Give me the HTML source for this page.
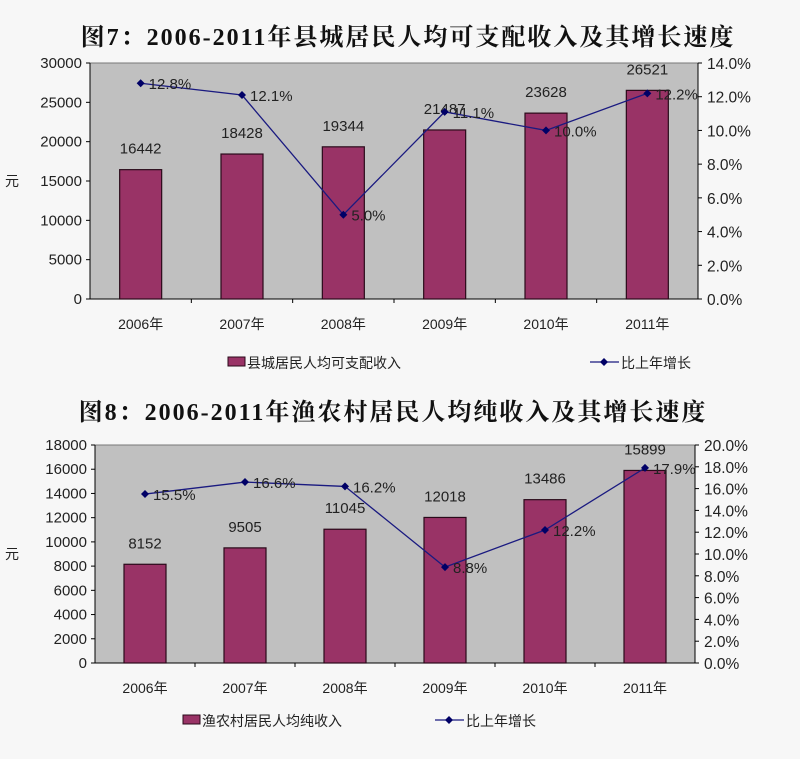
<!DOCTYPE html>
<html><head><meta charset="utf-8">
<style>
html,body{margin:0;padding:0;background:#f7f7f7;}
svg text{font-family:"Liberation Sans","Noto Sans CJK SC",sans-serif;}
.t{font-family:"Liberation Serif","Noto Serif CJK SC",serif;font-weight:bold;letter-spacing:2px;}
</style></head>
<body>
<svg id="s" width="800" height="754" viewBox="0 0 800 754" xmlns="http://www.w3.org/2000/svg">
<rect width="800" height="754" fill="#f7f7f7"/>
<text class="t" x="408" y="45" text-anchor="middle" font-size="24" fill="#111">图7：2006-2011年县城居民人均可支配收入及其增长速度</text>
<text class="t" x="393" y="420" text-anchor="middle" font-size="24" fill="#111">图8：2006-2011年渔农村居民人均纯收入及其增长速度</text>
</svg>
<script>
const categories=["2006年","2007年","2008年","2009年","2010年","2011年"];
const income1=[16442,18428,19344,21487,23628,26521];
const growth1=[12.8,12.1,5.0,11.1,10.0,12.2];
const income2=[8152,9505,11045,12018,13486,15899];
const growth2=[15.5,16.6,16.2,8.8,12.2,17.9];
const leftTicks1=[0,5000,10000,15000,20000,25000,30000];
const rightTicks1=[0,2,4,6,8,10,12,14];
const leftTicks2=[0,2000,4000,6000,8000,10000,12000,14000,16000,18000];
const rightTicks2=[0,2,4,6,8,10,12,14,16,18,20];

const svg=document.getElementById('s');
const NS='http://www.w3.org/2000/svg';
function mk(tag,attrs,parent){const e=document.createElementNS(NS,tag);for(const k in attrs)e.setAttribute(k,attrs[k]);(parent||svg).appendChild(e);return e;}

function chart(id,cfg){
  const {x0,x1,y0,y1,lmax,rmax,lt,rt,inc,gr,legY,legBar,legLine,name}=cfg;
  const g=mk('g',{});
  
  
  const bw=(x1-x0)/categories.length;
  const xc=i=>x0+bw*(i+0.5);
  const yL=v=>y1-(v/lmax)*(y1-y0);
  const yR=v=>y1-(v/rmax)*(y1-y0);
  const pa=mk('rect',{x:x0,y:y0,width:x1-x0,height:y1-y0,fill:'#c0c0c0',stroke:'#777','stroke-width':1},g);
  
  
  mk('line',{x1:x0,y1:y0,x2:x0,y2:y1,stroke:'#000'},g);
  mk('line',{x1:x1,y1:y0,x2:x1,y2:y1,stroke:'#000'},g);
  mk('line',{x1:x0,y1:y1,x2:x1,y2:y1,stroke:'#000'},g);
  lt.forEach(v=>{
    mk('line',{x1:x0-4,y1:yL(v),x2:x0,y2:yL(v),stroke:'#000'},g);
    const t=mk('text',{x:x0-8,y:yL(v)+5,'text-anchor':'end','font-size':15,fill:'#222'},g);
    t.textContent=v;
    
    
  });
  rt.forEach(v=>{
    mk('line',{x1:x1,y1:yR(v),x2:x1+4,y2:yR(v),stroke:'#000'},g);
    const t=mk('text',{x:x1+9,y:yR(v)+6,'font-size':15.5,fill:'#222'},g);
    t.textContent=v.toFixed(1)+'%';
    
    
  });
  const yt=mk('text',{x:12,y:(y0+y1)/2+5,'font-size':14,fill:'#222','text-anchor':'middle'},g);
  yt.textContent='元';
  
  
  categories.forEach((c,i)=>{
    if(i>0) mk('line',{x1:x0+bw*i,y1:y1,x2:x0+bw*i,y2:y1+4,stroke:'#000'},g);
    const t=mk('text',{x:xc(i),y:y1+30,'text-anchor':'middle','font-size':14,fill:'#222'},g);
    t.textContent=c;
    
    
    const b=mk('rect',{x:xc(i)-21,y:yL(inc[i]),width:42,height:y1-yL(inc[i]),fill:'#993366',stroke:'#2a0a1a','stroke-width':1.2},g);
    
    
    const bl=mk('text',{x:xc(i),y:yL(inc[i])-16,'text-anchor':'middle','font-size':15,fill:'#222'},g);
    bl.textContent=inc[i];
    
    
  });
  const pts=gr.map((v,i)=>xc(i)+','+yR(v)).join(' ');
  const pl=mk('polyline',{points:pts,fill:'none',stroke:'#1a1a80','stroke-width':1.3},g);
  
  
  gr.forEach((v,i)=>{
    const x=xc(i),y=yR(v);
    const m=mk('polygon',{points:`${x},${y-4} ${x+4},${y} ${x},${y+4} ${x-4},${y}`,fill:'#000066'},g);
    
    
    const t=mk('text',{x:x+8,y:y+6,'font-size':15,fill:'#222'},g);
    t.textContent=v.toFixed(1)+'%';
    
    
  });
  const l1=mk('rect',{x:legBar,y:legY-5,width:17,height:9,fill:'#993366',stroke:'#2a0a1a'},g);
  
  
  const lt1=mk('text',{x:legBar+19,y:legY+6,'font-size':14,fill:'#222'},g);
  lt1.textContent=name;
  
  
  mk('line',{x1:legLine,y1:legY,x2:legLine+29,y2:legY,stroke:'#1a1a80','stroke-width':1.3},g);
  mk('polygon',{points:`${legLine+14},${legY-4} ${legLine+18},${legY} ${legLine+14},${legY+4} ${legLine+10},${legY}`,fill:'#000066'},g);
  const lt2=mk('text',{x:legLine+31,y:legY+6,'font-size':14,fill:'#222'},g);
  lt2.textContent='比上年增长';
  
  
}
chart('chart-county-income',{x0:90,x1:698,y0:63,y1:299,lmax:30000,rmax:14,lt:leftTicks1,rt:rightTicks1,inc:income1,gr:growth1,legY:362,legBar:228,legLine:590,name:'县城居民人均可支配收入'});
chart('chart-rural-income',{x0:95,x1:695,y0:445,y1:663,lmax:18000,rmax:20,lt:leftTicks2,rt:rightTicks2,inc:income2,gr:growth2,legY:720,legBar:183,legLine:435,name:'渔农村居民人均纯收入'});
</script>
</body></html>
